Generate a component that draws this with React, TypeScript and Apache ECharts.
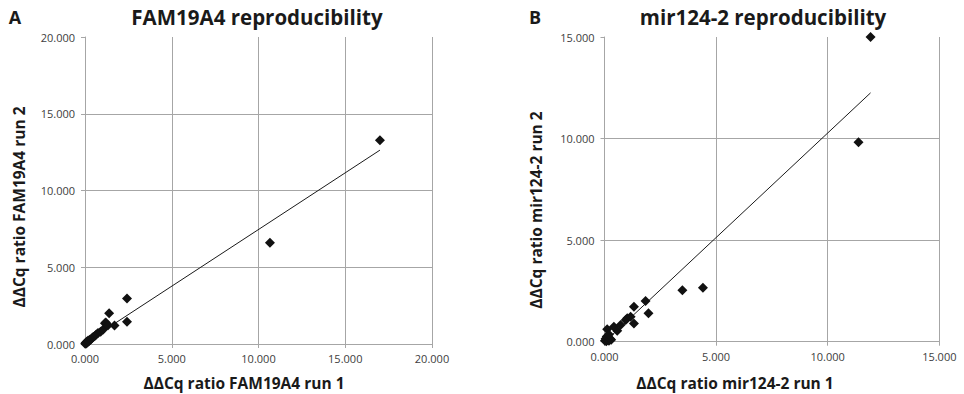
import React, { useEffect, useRef } from "react";
import * as echarts from "echarts";

// Panel A: FAM19A4
const famRun1 = [0.01, 0.04, 0.07, 0.1, 0.14, 0.18, 0.22, 0.28, 0.33, 0.4, 0.47, 0.55, 0.65, 0.75, 0.9, 1.05, 1.15, 1.2, 1.33, 1.39, 1.7, 2.42, 2.42, 10.66, 17.0];
const famRun2 = [0.02, 0.08, 0.04, 0.15, 0.1, 0.22, 0.18, 0.28, 0.3, 0.38, 0.45, 0.5, 0.62, 0.72, 0.8, 0.95, 1.35, 1.4, 1.22, 2.0, 1.2, 2.97, 1.45, 6.6, 13.28];
const famTrend = [[0.01, 0.08], [17.0, 12.63]];

// Panel B: mir124-2
const mirRun1 = [0.02, 0.05, 0.08, 0.1, 0.12, 0.15, 0.2, 0.25, 0.3, 0.12, 0.2, 0.42, 0.57, 0.72, 0.95, 1.02, 1.17, 1.32, 1.32, 1.84, 1.97, 3.49, 4.41, 11.38, 11.92];
const mirRun2 = [0.05, 0.15, 0.02, 0.25, 0.1, 0.2, 0.05, 0.15, 0.1, 0.61, 0.35, 0.74, 0.54, 0.82, 1.07, 1.15, 1.23, 1.72, 0.9, 2.0, 1.4, 2.53, 2.66, 9.82, 15.0];
const mirTrend = [[0.02, 0.0], [11.92, 12.25]];

const famAxisMax = 20;
const famAxisStep = 5;
const mirAxisMax = 15;
const mirAxisStep = 5;

const titles = ["FAM19A4 reproducibility", "mir124-2 reproducibility"];
const panelLetters = ["A", "B"];
const xNames = ["ΔΔCq ratio FAM19A4 run 1", "ΔΔCq ratio mir124-2 run 1"];
const yNames = ["ΔΔCq ratio FAM19A4 run 2", "ΔΔCq ratio mir124-2 run 2"];

const FONT = "'Open Sans', 'Noto Sans', sans-serif";
const GRID_COLOR = "#a6a6a6";
const LABEL_COLOR = "#404040";

function valueAxis(gridIndex: number, max: number, step: number) {
  return {
    type: "value",
    gridIndex,
    min: 0,
    max,
    interval: step,
    axisLine: { show: true, lineStyle: { color: GRID_COLOR, width: 1 } },
    axisTick: { show: true, inside: false, length: 4, lineStyle: { color: GRID_COLOR } },
    splitLine: { show: true, showMaxLine: true, lineStyle: { color: GRID_COLOR, width: 1 } },
    axisLabel: {
      color: LABEL_COLOR,
      fontFamily: FONT,
      fontSize: 11,
      formatter: (v: number) => v.toFixed(3),
    },
  };
}

function zip(a: number[], b: number[]) {
  return a.map((v, i) => [v, b[i]]);
}

export default function App() {
  const ref = useRef<HTMLDivElement>(null);
  useEffect(() => {
    document.body.style.margin = "0";
    if (!ref.current) return;
    const chart = echarts.init(ref.current, null, { renderer: "svg" });
    const xA = valueAxis(0, famAxisMax, famAxisStep);
    const yA = valueAxis(0, famAxisMax, famAxisStep);
    const xB = valueAxis(1, mirAxisMax, mirAxisStep);
    const yB = valueAxis(1, mirAxisMax, mirAxisStep);
    (xA.axisLabel as any).margin = 9;
    (xB.axisLabel as any).margin = 9;
    (yA.axisLabel as any).margin = 10;
    (yB.axisLabel as any).margin = 10;
    (yA.splitLine as any).showMaxLine = false;
    (yB.splitLine as any).showMaxLine = false;

    const scatterStyle = {
      type: "scatter",
      symbol: "diamond",
      symbolSize: 10,
      itemStyle: { color: "#111111", opacity: 1 },
    };
    const lineStyle = {
      type: "line",
      symbol: "none",
      lineStyle: { color: "#1a1a1a", width: 1 },
    };

    const boldText = (text: string, x: number, y: number, size: number, rotation = 0) => ({
      type: "text",
      x,
      y,
      rotation,
      style: {
        text,
        font: `bold ${size}px ${FONT}`,
        fill: "#1a1a1a",
        textAlign: "center",
        textVerticalAlign: "middle",
      },
    });

    chart.setOption({
      animation: false,
      backgroundColor: "#ffffff",
      grid: [
        { left: 85, right: 532, top: 37, bottom: 50 },
        { left: 604.5, right: 24.7, top: 37, bottom: 52.3 },
      ],
      xAxis: [xA, xB],
      yAxis: [yA, yB],
      series: [
        { ...lineStyle, xAxisIndex: 0, yAxisIndex: 0, data: famTrend, z: 1 },
        { ...scatterStyle, xAxisIndex: 0, yAxisIndex: 0, data: zip(famRun1, famRun2), z: 2 },
        { ...lineStyle, xAxisIndex: 1, yAxisIndex: 1, data: mirTrend, z: 1 },
        { ...scatterStyle, xAxisIndex: 1, yAxisIndex: 1, data: zip(mirRun1, mirRun2), z: 2 },
      ],
      graphic: [
        boldText(panelLetters[0], 15, 17, 18),
        boldText(titles[0], 257, 17, 20.5),
        boldText(panelLetters[1], 535, 17, 18),
        boldText(titles[1], 763, 17, 20.5),
        boldText(xNames[0], 244, 383, 15.5),
        boldText(xNames[1], 735, 383, 15.5),
        boldText(yNames[0], 19, 207, 15.5, Math.PI / 2),
        boldText(yNames[1], 536, 210, 15.5, Math.PI / 2),
      ],
    });
    return () => chart.dispose();
  }, []);
  return <div ref={ref} style={{ width: 964, height: 394 }} />;
}
